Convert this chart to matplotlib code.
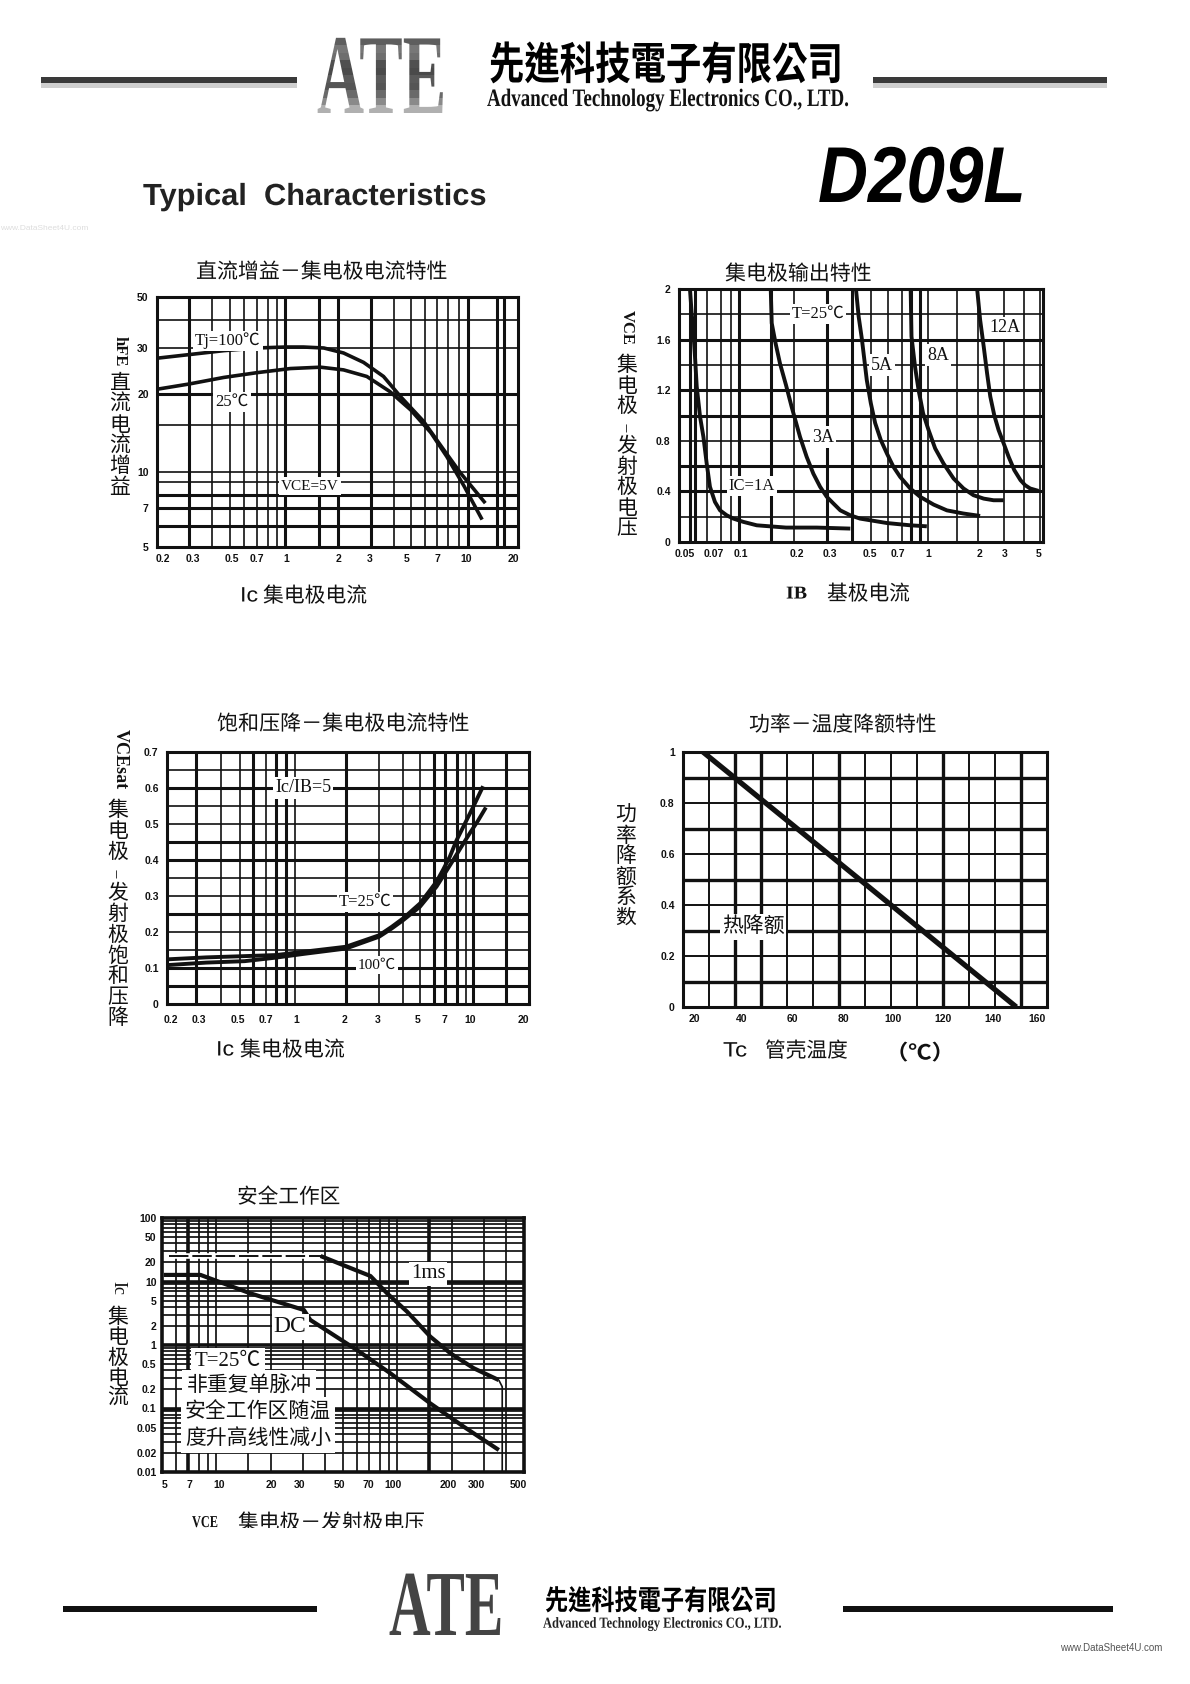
import numpy as np
import matplotlib
matplotlib.use('Agg')
import matplotlib.pyplot as plt
from matplotlib.colors import to_rgb
from matplotlib.patches import Rectangle
from matplotlib.patheffects import AbstractPathEffect
from matplotlib.transforms import Affine2D, Bbox, ScaledTranslation

W, H = 1190, 1684
CJK = ['Noto Sans CJK SC', 'DejaVu Sans']
CJK_TC = ['Noto Sans CJK TC', 'DejaVu Sans']
SERIF = ['Liberation Serif', 'Noto Sans CJK SC']
INK = '#111111'

# ---- Chart 1: DC gain ----
c1_x100 = [0.2, 0.3, 0.464, 0.7, 1.0, 1.27, 1.66, 2.14, 2.73, 3.51, 4.36, 5.87, 7.57, 9.2, 12.75]
c1_y100 = [27.4, 28.3, 29.3, 30.0, 30.3, 30.3, 30.0, 28.7, 26.4, 23.3, 19.5, 15.5, 12.1, 9.9, 7.35]
c1_x25 = [0.2, 0.3, 0.464, 0.7, 1.07, 1.59, 2.14, 2.84, 3.8, 4.98, 6.47, 7.85, 9.6, 12.2]
c1_y25 = [20.8, 21.8, 23.1, 24.1, 25.0, 25.3, 24.7, 23.3, 20.4, 17.2, 14.0, 11.4, 8.65, 6.35]
c1_xticks = [0.2, 0.3, 0.5, 0.7, 1, 2, 3, 5, 7, 10, 20]
c1_xlabels = ['0.2', '0.3', '0.5', '0.7', '1', '2', '3', '5', '7', '10', '20']
c1_yticks = [5, 7, 10, 20, 30, 50]
c1_ylabels = ['5', '7', '10', '20', '30', '50']
c1_vthin = [0.4, 0.5, 0.6, 0.7, 0.8, 0.9, 4, 5, 6, 7, 8, 9]
c1_vthick = [0.3, 1, 1.55, 2, 3, 10, 15, 16.6]
c1_hthin = [40, 30, 15, 10, 9]
c1_hthick = [20, 8, 7, 6]

# ---- Chart 2: output characteristic ----
c2_x1 = [0.05, 0.0509, 0.0518, 0.0528, 0.0538, 0.0558, 0.0579, 0.06, 0.0622, 0.0657, 0.0695, 0.0787, 0.0895,
         0.1056, 0.1248, 0.18, 0.265, 0.394]
c2_y1 = [1.995, 1.81, 1.68, 1.466, 1.23, 0.99, 0.83, 0.62, 0.436, 0.317, 0.25, 0.211, 0.185,
         0.159, 0.132, 0.114, 0.114, 0.106]
c2_x3 = [0.1487, 0.1505, 0.158, 0.167, 0.18, 0.193, 0.2146, 0.233, 0.2535, 0.276, 0.3, 0.324, 0.351, 0.394,
         0.441, 0.595, 0.786, 0.99]
c2_y3 = [1.995, 1.73, 1.57, 1.41, 1.24, 1.07, 0.83, 0.674, 0.54, 0.436, 0.357, 0.304, 0.25, 0.211,
         0.185, 0.15, 0.132, 0.124]
c2_x5 = [0.421, 0.434, 0.451, 0.477, 0.5, 0.524, 0.557, 0.595, 0.639, 0.687, 0.786, 0.903, 1.086, 1.305, 1.64, 2.07]
c2_y5 = [1.995, 1.783, 1.6, 1.28, 1.096, 0.94, 0.806, 0.70, 0.594, 0.515, 0.423, 0.357, 0.296, 0.25, 0.225, 0.206]
c2_x8 = [0.791, 0.8, 0.84, 0.883, 0.94, 1.014, 1.11, 1.246, 1.43, 1.64, 1.88, 2.19, 2.56, 3.0]
c2_y8 = [1.995, 1.625, 1.387, 1.2, 1.017, 0.885, 0.74, 0.62, 0.502, 0.423, 0.37, 0.343, 0.33, 0.33]
c2_x12 = [1.98, 2.07, 2.19, 2.31, 2.43, 2.59, 2.77, 3.0, 3.22, 3.49, 3.81, 4.07, 4.37, 4.92]
c2_y12 = [1.995, 1.757, 1.546, 1.334, 1.15, 1.0, 0.885, 0.78, 0.674, 0.568, 0.489, 0.449, 0.423, 0.404]
c2_xticks = [0.05, 0.07, 0.1, 0.2, 0.3, 0.5, 0.7, 1, 2, 3, 5]
c2_xlabels = ['0.05', '0.07', '0.1', '0.2', '0.3', '0.5', '0.7', '1', '2', '3', '5']
c2_yticks = [0, 0.4, 0.8, 1.2, 1.6, 2]
c2_ylabels = ['0', '0.4', '0.8', '1.2', '1.6', '2']
c2_vthin = [0.06, 0.07, 0.085, 0.2, 0.5, 0.6, 0.7, 1, 1.5, 2, 3, 4, 5]
c2_vthick = [0.05, 0.053, 0.1, 0.15, 0.3, 0.4, 0.8, 0.9]
c2_hthin = [1.8, 1.4, 0.8, 0.2]
c2_hthick = [1.6, 1.2, 1.0, 0.6, 0.4]

# ---- Chart 3: saturation voltage ----
c3_x25 = [0.2, 0.336, 0.535, 0.8, 1.12, 2, 3, 3.49, 4, 5, 5.55, 6.2, 6.8, 7.4, 8, 8.7, 10, 11.3]
c3_y25 = [0.124, 0.1295, 0.133, 0.136, 0.145, 0.159, 0.191, 0.2146, 0.238, 0.279, 0.309, 0.34, 0.372, 0.409,
          0.455, 0.492, 0.548, 0.605]
c3_x100 = [0.2, 0.336, 0.535, 0.8, 1.12, 2, 3, 3.49, 4, 5, 5.55, 6.2, 7, 7.7, 8.5, 9.5, 10.6, 11.7]
c3_y100 = [0.108, 0.115, 0.119, 0.129, 0.139, 0.154, 0.187, 0.21, 0.233, 0.27, 0.298, 0.326, 0.363, 0.40,
           0.437, 0.474, 0.509, 0.546]
c3_xticks = [0.2, 0.3, 0.5, 0.7, 1, 2, 3, 5, 7, 10, 20]
c3_xlabels = ['0.2', '0.3', '0.5', '0.7', '1', '2', '3', '5', '7', '10', '20']
c3_yticks = [0, 0.1, 0.2, 0.3, 0.4, 0.5, 0.6, 0.7]
c3_ylabels = ['0', '0.1', '0.2', '0.3', '0.4', '0.5', '0.6', '0.7']
c3_vthin = [0.4, 0.5, 0.7, 1, 3, 4, 5, 9]
c3_vthick = [0.3, 0.6, 0.8, 0.9, 2, 6, 7, 8, 10, 15]
c3_hthin = [0.15, 0.2, 0.3, 0.35, 0.5, 0.55, 0.65]
c3_hthick = [0.05, 0.1, 0.25, 0.4, 0.45, 0.6]

# ---- Chart 4: power derating ----
c4_x = [27.7, 148.2]
c4_y = [1.0, 0.0]
c4_xticks = [20, 40, 60, 80, 100, 120, 140, 160]
c4_xlabels = ['20', '40', '60', '80', '100', '120', '140', '160']
c4_yticks = [0, 0.2, 0.4, 0.6, 0.8, 1]
c4_ylabels = ['0', '0.2', '0.4', '0.6', '0.8', '1']
c4_vthin = [30, 60, 70, 90, 100, 110, 130, 140]
c4_vthick = [40, 50, 80, 120, 150]
c4_hthin = [0.2, 0.4, 0.6, 0.8]
c4_hthick = [0.1, 0.3, 0.5, 0.7, 0.9]

# ---- Chart 5: safe operating area ----
c5_x1ms = [5.45, 37.6, 52.7, 70.9, 87.7, 113, 152, 196, 264, 363, 379, 379]
c5_y1ms = [25.2, 25.2, 17.1, 12.2, 6.5, 3.35, 1.35, 0.74, 0.43, 0.28, 0.22, 0.0101]
c5_xdc = [5.12, 8.16, 15.4, 30.4, 33, 59.8, 91.4, 152, 232, 363]
c5_ydc = [12.7, 12.7, 6.5, 3.56, 2.48, 0.83, 0.358, 0.12, 0.0518, 0.0222]
c5_xticks = [5, 7, 10, 20, 30, 50, 70, 100, 200, 300, 500]
c5_xlabels = ['5', '7', '10', '20', '30', '50', '70', '100', '200', '300', '500']
c5_yticks = [0.01, 0.02, 0.05, 0.1, 0.2, 0.5, 1, 2, 5, 10, 20, 50, 100]
c5_ylabels = ['0.01', '0.02', '0.05', '0.1', '0.2', '0.5', '1', '2', '5', '10', '20', '50', '100']
c5_vthin = [6, 8, 9, 10, 15, 20, 30, 40, 50, 60, 70, 80, 90, 100, 200, 300, 400]
c5_vthick = [7, 150]
c5_hthin = [m * d for d in (0.01, 0.1, 1, 10) for m in (2, 3, 4, 5, 6, 7, 8, 9)]
c5_hthick = [1, 0.1, 10]

# Where each axis value sits on the printed (hand-ruled) scales of charts 1-3
cal1_x = ([0.2, 0.3, 0.5, 0.7, 1, 2, 3, 5, 7, 10, 20], [200, 297, 418, 500, 585, 743, 843, 962, 1040, 1132, 1283])
cal1_y = ([5, 6, 7, 8, 9, 10, 15, 20, 30, 40, 50], [0, 62, 117, 157, 195, 225, 367, 460, 597, 682, 750])
cal2_x = ([0.045, 0.05, 0.06, 0.07, 0.1, 0.2, 0.3, 0.5, 0.7, 1, 2, 3, 5, 5.2],
          [237, 270, 320, 362, 417, 583, 680, 812, 905, 982, 1133, 1210, 1318, 1328])
cal3_x = ([0.2, 0.3, 0.4, 0.5, 0.6, 0.7, 0.8, 0.9, 1, 2, 3, 4, 5, 6, 7, 8, 9, 10, 20],
          [232, 320, 395, 450, 490, 528, 560, 590, 615, 768, 868, 940, 990, 1033, 1065, 1100, 1128, 1150, 1317])


def px(x, y):
    return x / W, 1 - y / H


class Squeeze(AbstractPathEffect):
    """Draws a text stretched about (x0, y0), optionally shaded in horizontal bands."""
    def __init__(self, x0, y0, sx, sy, shades=None):
        super().__init__()
        self.x0, self.y0, self.sx, self.sy, self.shades = x0, y0, sx, sy, shades

    def draw_path(self, renderer, gc, tpath, affine, rgbFace=None):
        a = (affine + Affine2D().translate(-self.x0, -self.y0).scale(self.sx, self.sy)
             .translate(self.x0, self.y0))
        if not self.shades:
            renderer.draw_path(gc, tpath, a, rgbFace)
            return
        e = tpath.get_extents(a)
        h = e.height / len(self.shades)
        for i, s in enumerate(self.shades):
            g = renderer.new_gc()
            g.copy_properties(gc)
            g.set_clip_rectangle(Bbox([[0, e.y0 + i * h - (1 if i == 0 else 0)],
                                       [W, e.y0 + (i + 1) * h + (1 if i == len(self.shades) - 1 else 0)]]))
            renderer.draw_path(g, tpath, a, to_rgb(s))
            g.restore()


fig = plt.figure(figsize=(W / 100, H / 100), dpi=100, facecolor='white')
rend = fig.canvas.get_renderer()


def fit(x0, x1, y, s, size, family=CJK, weight='normal', color=INK, va='center', shades=None, zorder=5, style='normal'):
    """Text spanning x0..x1 at the look of `size`: set at the size that gives that width, then drawn taller."""
    t = fig.text(*px(x0, y), s, fontsize=size, family=family, weight=weight, color=color,
                 ha='left', va=va, zorder=zorder, style=style)
    s0 = min(1.0, (x1 - x0) / t.get_window_extent(rend).width)
    t.set_fontsize(size * s0)
    sx = (x1 - x0) / t.get_window_extent(rend).width
    t.set_path_effects([Squeeze(x0, H - y, sx, 1 / s0, shades)])
    return t


def stack(x, y0, y1, chars, size):
    step = (y1 - y0) / len(chars)
    for i, c in enumerate(chars):
        dash = c == '－'
        fig.text(*px(x, y0 + step * (i + 0.5)), c, fontsize=8 if dash else size, family=CJK, color=INK,
                 ha='center', va='center', rotation=90 if dash else 0)


def rotated(x, y, s, size=12, weight='bold'):
    fig.text(*px(x, y), s, fontsize=size, family=SERIF, weight=weight, color=INK,
             ha='center', va='center', rotation=-90)


def warp(ax, which, cal):
    vals, pos = cal
    lv, p = np.log10(vals), np.asarray(pos, float)
    fwd = lambda v: np.interp(np.log10(v), lv, p)
    inv = lambda q: 10 ** np.interp(q, p, lv)
    (ax.set_xscale if which == 'x' else ax.set_yscale)('function', functions=(fwd, inv))


def frame(l, r, t, b, xlim, ylim, xscale=None, yscale=None, spine=2.2):
    ax = fig.add_axes([l / W, 1 - b / H, (r - l) / W, (b - t) / H], facecolor='white')
    if xscale == 'log':
        ax.set_xscale('log')
    elif xscale:
        warp(ax, 'x', xscale)
    if yscale == 'log':
        ax.set_yscale('log')
    elif yscale:
        warp(ax, 'y', yscale)
    ax.set_xlim(*xlim)
    ax.set_ylim(*ylim)
    for s in ax.spines.values():
        s.set_linewidth(spine)
        s.set_color(INK)
    return ax


def grid(ax, vthin, vthick, hthin, hthick, thin=1.2, thick=2.2):
    for v in vthin:
        ax.axvline(v, color=INK, lw=thin, zorder=1)
    for v in vthick:
        ax.axvline(v, color=INK, lw=thick, zorder=1)
    for v in hthin:
        ax.axhline(v, color=INK, lw=thin, zorder=1)
    for v in hthick:
        ax.axhline(v, color=INK, lw=thick, zorder=1)


def ticks(ax, xt, xl, yt, yl, xdx, xpad, ypad):
    ax.set_xticks(xt, xl)
    ax.set_yticks(yt, yl)
    ax.minorticks_off()
    ax.tick_params(length=0, labelsize=7.5, labelcolor=INK)
    ax.tick_params(axis='x', pad=xpad)
    ax.tick_params(axis='y', pad=ypad)
    for lab in ax.get_xticklabels() + ax.get_yticklabels():
        lab.set_family(['Liberation Sans'])
        lab.set_weight('bold')
    for lab, dx in zip(ax.get_xticklabels(), xdx):
        lab.set_transform(lab.get_transform() + ScaledTranslation(dx / 100, 0, fig.dpi_scale_trans))


def curve(ax, x, y, lw=2.6, **kw):
    ax.plot(x, y, color=INK, lw=lw, solid_joinstyle='round', solid_capstyle='butt', zorder=3, **kw)


def note(x, y, s, size=13, family=SERIF, pad=1.5):
    fig.text(*px(x, y), s, fontsize=size, family=family, color=INK, ha='center', va='center', zorder=6,
             bbox=dict(facecolor='white', edgecolor='none', pad=pad))


# ---------- Header ----------
metal = ['#b0b0b0', '#8a8a8a', '#6a6a6a', '#555555', '#5a5a5a', '#4a4a4a', '#505050', '#6e6e6e', '#777777', '#5e5e5e']
fig.add_artist(Rectangle(px(41, 88), 256 / W, 6 / H, transform=fig.transFigure, color='#cfcfcf', lw=0))
fig.add_artist(Rectangle(px(873, 88), 234 / W, 6 / H, transform=fig.transFigure, color='#cfcfcf', lw=0))
fig.add_artist(Rectangle(px(41, 83), 256 / W, 6 / H, transform=fig.transFigure, color='#3a3a3a', lw=0))
fig.add_artist(Rectangle(px(873, 83), 234 / W, 6 / H, transform=fig.transFigure, color='#3a3a3a', lw=0))
fit(317, 446, 113, 'ATE', 82, family=['Liberation Serif'], weight='bold', color='#555555', va='baseline', shades=metal)
fit(489, 843, 66, '先進科技電子有限公司', 32, family=CJK_TC, weight='bold', color='#000000')
fit(487, 848, 100, 'Advanced Technology Electronics CO., LTD.', 18, family=['Liberation Serif'], weight='bold', color='#111111')
fit(818, 1026, 202, 'D209L', 57, family=['Liberation Sans'], weight='bold', color='#000000', va='baseline', style='italic')
fit(143, 486, 197, 'Typical  Characteristics', 22, family=['Liberation Sans'], weight='bold', color='#222222')
fig.text(*px(0, 229), 'www.DataSheet4U.com', fontsize=6, family=['Liberation Sans'], color='#dddddd', va='center')

# ---------- Chart 1 ----------
ax = frame(157, 518, 297, 547, (0.2, 20), (5, 50), cal1_x, cal1_y)
grid(ax, c1_vthin, c1_vthick, c1_hthin, c1_hthick)
ticks(ax, c1_xticks, c1_xlabels, c1_yticks, c1_ylabels, [6, 4, 2, 0, 1, 0, -2, -4, 0, -2, -5], 5, 6)
curve(ax, c1_x100, c1_y100)
curve(ax, c1_x25, c1_y25)
fit(196, 448, 272, '直流增益－集电极电流特性', 15)
stack(120, 373, 497, '直流电流增益', 15)
rotated(120, 351, 'hFE')
fit(240, 258, 596, 'Ic', 15, family=['Liberation Sans'])
fit(263, 367, 596, '集电极电流', 15)
note(228, 341, 'Tj=100℃', 12)
note(232, 402, '25℃', 12)
note(310, 486, 'VCE=5V', 11)

# ---------- Chart 2 ----------
ax = frame(679, 1043, 289, 542, (0.045, 5.2), (0, 2), cal2_x)
grid(ax, c2_vthin, c2_vthick, c2_hthin, c2_hthick)
ticks(ax, c2_xticks, c2_xlabels, c2_yticks, c2_ylabels, [-5, -7, 2, 2, 3, -1, -4, 1, 2, 1, -1], 5, 6)
for xs, ys in ((c2_x1, c2_y1), (c2_x3, c2_y3), (c2_x5, c2_y5), (c2_x8, c2_y8), (c2_x12, c2_y12)):
    curve(ax, xs, ys, lw=2.8)
fit(725, 872, 274, '集电极输出特性', 15)
stack(627, 355, 538, '集电极－发射极电压', 15)
rotated(627, 327, 'VCE')
fit(786, 807, 594, 'IB', 13, family=['Liberation Serif'], weight='bold')
fit(827, 910, 594, '基极电流', 15)
note(818, 314, 'T=25℃', 12)
note(1005, 328, '12A', 13)
note(938, 355, '8A', 13)
note(882, 365, '5A', 13)
note(823, 437, '3A', 13)
note(752, 486, 'IC=1A', 12)

# ---------- Chart 3 ----------
ax = frame(167, 529, 752, 1004, (0.2, 20), (0, 0.7), cal3_x)
grid(ax, c3_vthin, c3_vthick, c3_hthin, c3_hthick)
ticks(ax, c3_xticks, c3_xlabels, c3_yticks, c3_ylabels, [4, 3, -2, 0, 1, -1, -2, -2, 0, -3, -6], 8, 6)
curve(ax, c3_x25, c3_y25, lw=2.8)
curve(ax, c3_x100, c3_y100, lw=2.8)
fit(217, 470, 724, '饱和压降－集电极电流特性', 15)
stack(118, 800, 1028, '集电极－发射极饱和压降', 15)
rotated(120, 759, 'VCEsat', 13)
fit(216, 234, 1050, 'Ic', 15, family=['Liberation Sans'])
fit(240, 345, 1050, '集电极电流', 15)
note(303, 788, 'Ic/IB=5', 13)
note(365, 902, 'T=25℃', 12)
note(377, 965, '100℃', 11)

# ---------- Chart 4 ----------
ax = frame(683, 1047, 752, 1007, (20, 160), (0, 1))
grid(ax, c4_vthin, c4_vthick, c4_hthin, c4_hthick, thin=1.4, thick=2.4)
ticks(ax, c4_xticks, c4_xlabels, c4_yticks, c4_ylabels, [11, 7, 5, 4, 2, 0, -2, -10], 5, 6)
curve(ax, c4_x, c4_y, lw=3.8)
fit(749, 937, 725, '功率－温度降额特性', 15)
stack(626, 805, 928, '功率降额系数', 15)
fit(723, 747, 1051, 'Tc', 15, family=['Liberation Sans'])
fit(765, 848, 1051, '管壳温度', 15)
fit(885, 955, 1053, '（℃）', 15, weight='bold')
note(753, 927, '热降额', 15, family=CJK)

# ---------- Chart 5 ----------
ax = frame(162, 524, 1218, 1472, (5, 500), (0.01, 100), 'log', 'log', spine=2.6)
grid(ax, c5_vthin, c5_vthick, c5_hthin, c5_hthick, thin=1.25, thick=2.6)
ticks(ax, c5_xticks, c5_xlabels, c5_yticks, c5_ylabels, [3, 1, 3, 0, -3, -4, -1, -4, -4, -7, -6], 6, 4)
ax.plot(c5_x1ms[:2], c5_y1ms[:2], color='white', lw=4, zorder=2)
ax.plot(c5_x1ms[:2], c5_y1ms[:2], color=INK, lw=1.4, ls=(0, (10, 2)), zorder=3)
curve(ax, c5_x1ms[1:10], c5_y1ms[1:10], lw=3.0)
curve(ax, c5_x1ms[9:], c5_y1ms[9:], lw=1.2)
curve(ax, c5_xdc, c5_ydc, lw=3.0)
fit(237, 340, 1197, '安全工作区', 15)
stack(118, 1307, 1408, '集电极电流', 15)
rotated(118, 1288, 'Ic', 13, 'normal')
fit(192, 218, 1523, 'VCE', 12, family=['Liberation Serif'], weight='bold')
fit(238, 425, 1523, '集电极－发射极电压', 15)
fig.add_artist(Rectangle(px(180, 1545), 260 / W, 17 / H, transform=fig.transFigure, color='white', lw=0, zorder=10))
note(428, 1274, '1ms', 15)
note(290, 1327, 'DC', 17)
note(228, 1362, 'T=25℃', 15, pad=3)
note(249, 1385, '非重复单脉冲', 15, family=CJK, pad=3)
note(258, 1412, '安全工作区随温', 15, family=CJK, pad=3)
note(258, 1438, '度升高线性减小', 15, family=CJK, pad=3)

# ---------- Footer ----------
fig.add_artist(Rectangle(px(63, 1612), 254 / W, 6 / H, transform=fig.transFigure, color='#111111', lw=0))
fig.add_artist(Rectangle(px(843, 1612), 270 / W, 6 / H, transform=fig.transFigure, color='#111111', lw=0))
fit(389, 503, 1635, 'ATE', 67, family=['Liberation Serif'], weight='bold', color='#444444', va='baseline')
fit(545, 777, 1602, '先進科技電子有限公司', 20, family=CJK_TC, weight='bold', color='#000000')
fit(543, 781, 1624, 'Advanced Technology Electronics CO., LTD.', 11, family=['Liberation Serif'], weight='bold', color='#222222')
fig.text(*px(1060, 1648), 'www.DataSheet4U.com', fontsize=7, family=['Liberation Sans'], color='#555555', va='center')

fig.savefig('out.png', dpi=100, facecolor='white')
